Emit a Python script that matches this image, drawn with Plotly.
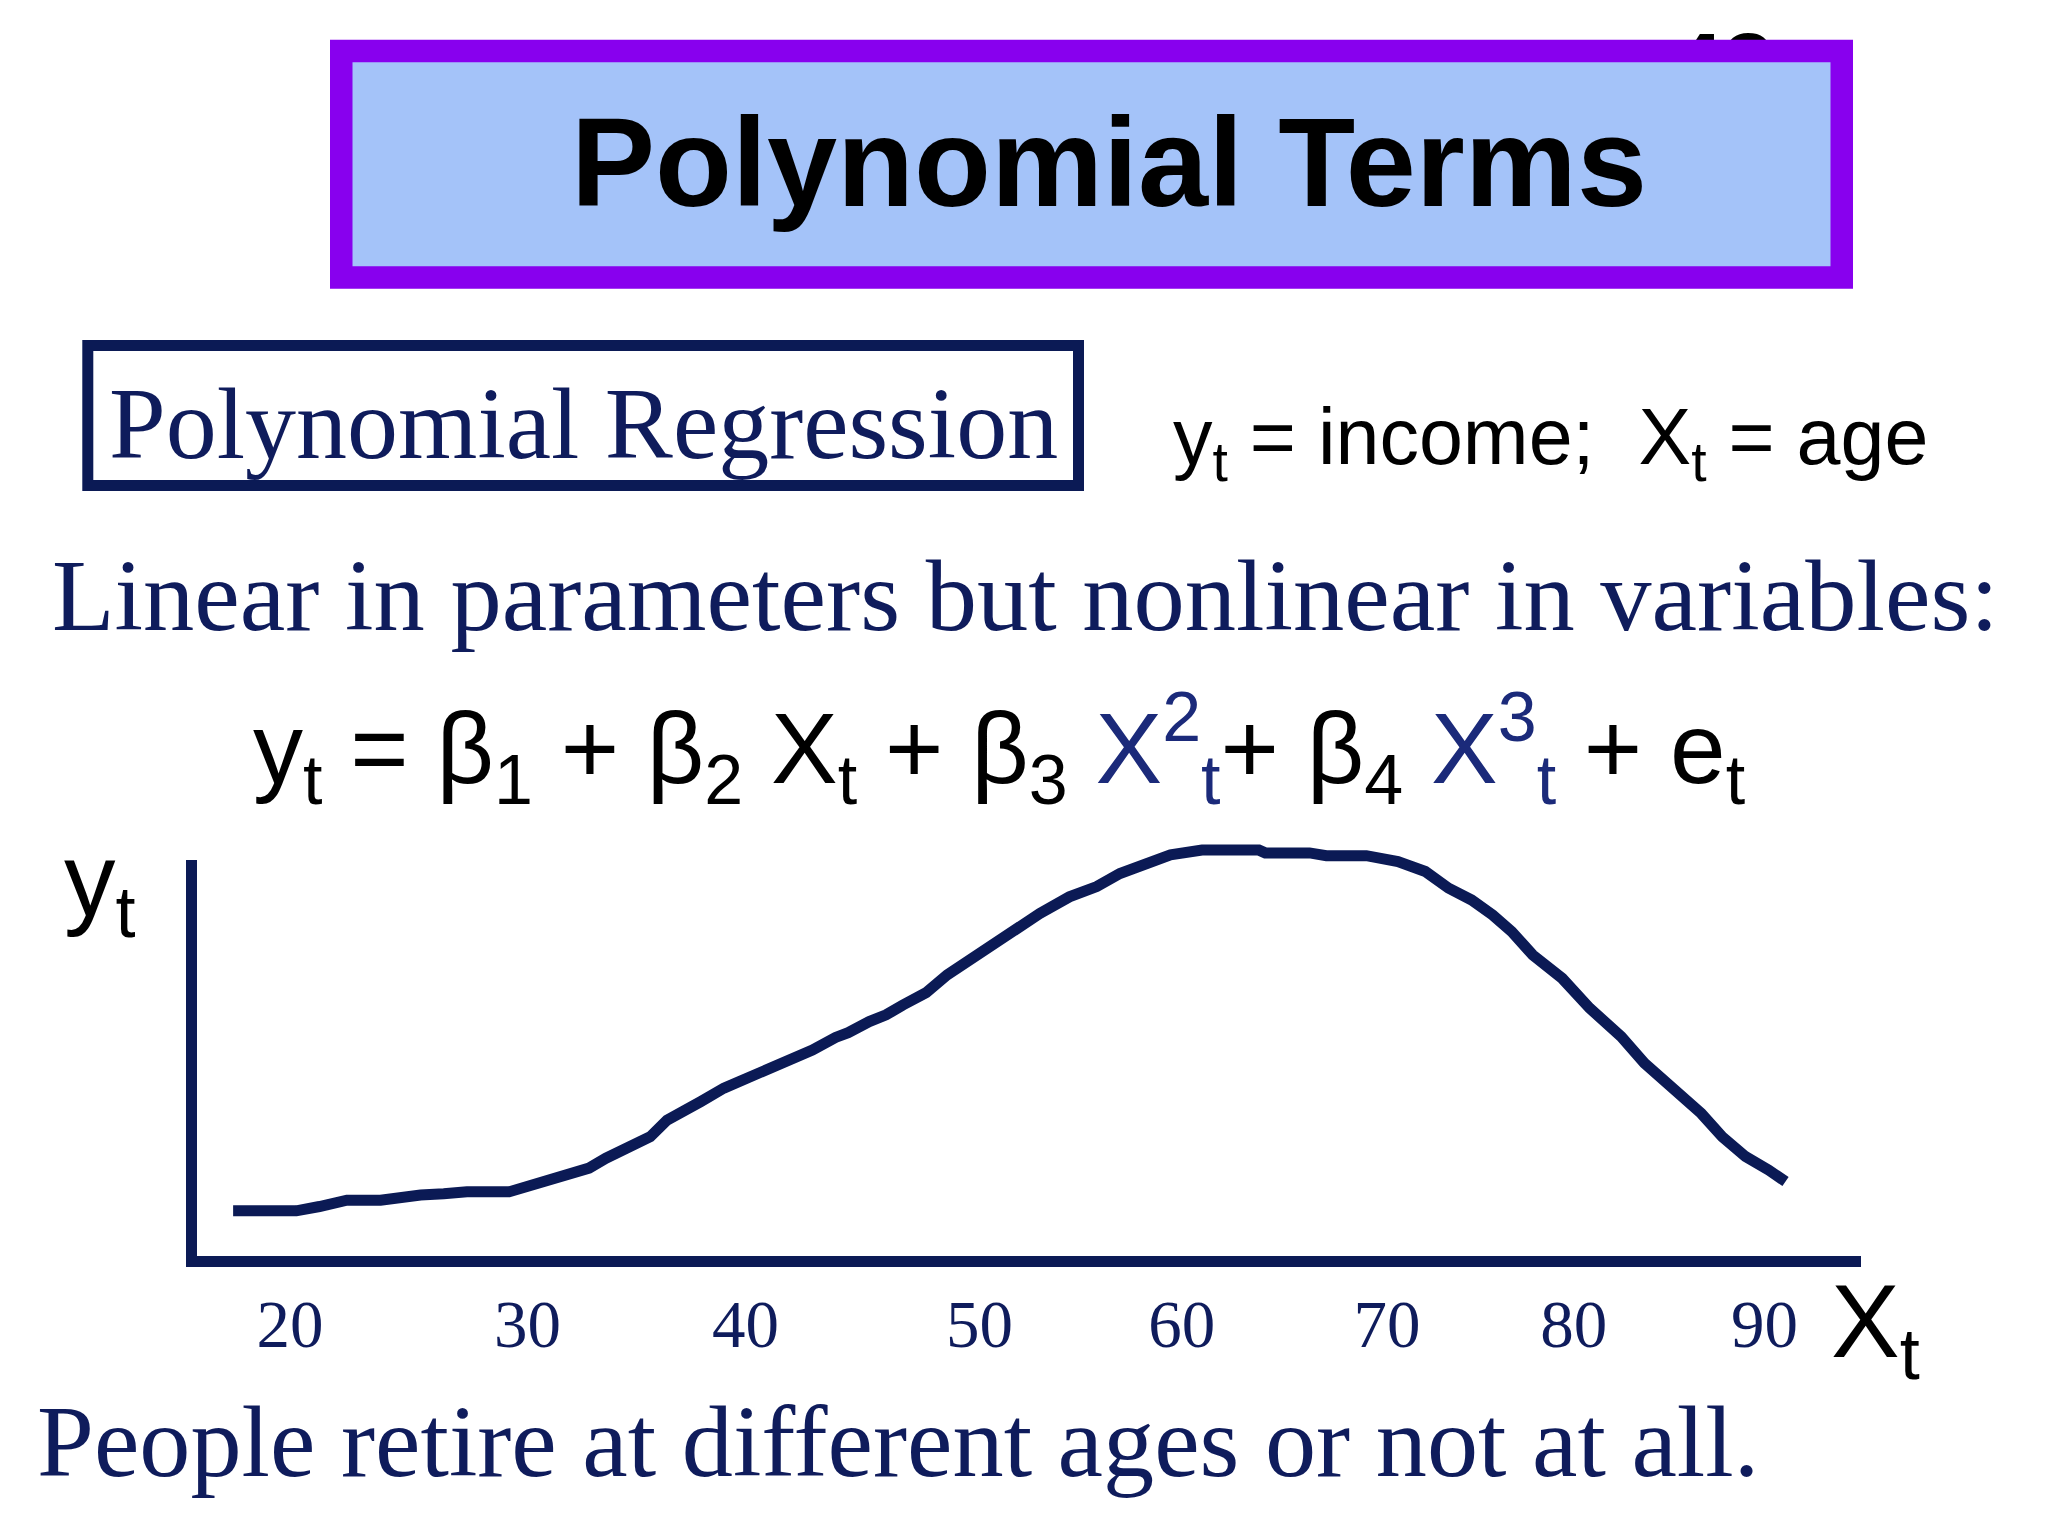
import plotly.graph_objects as go

# ---- data ----
ages = [17.3, 20.3, 21.4, 22.2, 22.7, 24.3, 25.0, 26.2, 27.3, 28.4, 30.4, 31.4, 32.2, 33.3,
        34.2, 35.0, 36.0, 37.1, 37.9, 38.7, 39.5, 40.6, 41.8, 43.2, 44.8, 45.9, 46.5, 47.5,
        48.3, 49.1, 50.2, 51.2, 52.4, 53.8, 54.8, 55.6, 57.0, 58.3, 59.4, 60.5, 61.8, 63.3,
        66.0, 66.3, 68.4, 69.2, 71.1, 72.6, 73.9, 75.0, 76.1, 77.1, 78.0, 79.0, 80.4, 81.7,
        83.2, 84.3, 85.3, 87.0, 88.0, 89.1, 90.2, 91.0]
income = [11.4, 11.4, 12.5, 13.3, 14.1, 14.1, 14.8, 15.4, 15.7, 16.2, 16.2, 17.9, 18.8, 21.3,
          22.2, 24.7, 27.2, 30.1, 34.3, 36.4, 39.0, 42.4, 45.1, 48.7, 52.0, 55.2, 56.4, 59.2,
          60.9, 63.4, 66.5, 71.0, 75.2, 80.2, 84.0, 86.5, 90.7, 93.3, 96.6, 98.7, 101.3, 102.5,
          102.5, 101.8, 101.8, 101.1, 101.1, 99.6, 97.1, 92.9, 89.9, 86.1, 81.9, 76.0, 70.1, 62.6,
          55.4, 48.7, 44.0, 36.0, 30.1, 25.1, 21.7, 18.8]
# the slide's hand-placed age labels and where they sit on the age scale
tick_ages = [20, 31.28, 41.63, 52.73, 62.34, 72.08, 80.94, 90]
tick_labels = ["20", "30", "40", "50", "60", "70", "80", "90"]
page_number = "43"

W, H = 2048, 1536
NAVY = "#0B1A55"
TXT_NAVY = "#0F1C5C"
EQ_BLUE = "#1B2A7A"
SANS = "Liberation Sans, Arial, sans-serif"
SERIF = "Liberation Serif, Times New Roman, serif"


def px(x):
    return x / W


def py(y):
    return 1 - y / H


fig = go.Figure()
fig.add_trace(go.Scatter(x=ages, y=income, mode="lines",
                         line=dict(color=NAVY, width=11), hoverinfo="skip",
                         showlegend=False))
# page number, mostly hidden behind the title box (as on the slide)
fig.add_trace(go.Scatter(x=[1723], y=[75], mode="text", text=[f"<b>{page_number}</b>"],
                         textposition="middle center",
                         textfont=dict(family=SANS, size=92, color="black"),
                         xaxis="x2", yaxis="y2", hoverinfo="skip", showlegend=False))

shapes = [
    # title box
    dict(type="rect", xref="paper", yref="paper",
         x0=px(341.25), x1=px(1841.75), y0=py(277.5), y1=py(51),
         line=dict(color="#8800EE", width=22.5), fillcolor="#A4C3F9", layer="above"),
    # Polynomial Regression box
    dict(type="rect", xref="paper", yref="paper",
         x0=px(87.8), x1=px(1078.5), y0=py(485.5), y1=py(345.5),
         line=dict(color=NAVY, width=11), fillcolor="rgba(0,0,0,0)"),
    # vertical axis line
    dict(type="line", xref="paper", yref="paper",
         x0=px(191.5), x1=px(191.5), y0=py(1267), y1=py(860),
         line=dict(color=NAVY, width=11)),
]

eq = ("y<sub>t</sub> = β<sub>1</sub> + β<sub>2</sub> X<sub>t</sub> + β<sub>3</sub> "
      f"<span style='color:{EQ_BLUE}'>X<sup>2</sup><sub>t</sub></span>+ β<sub>4</sub> "
      f"<span style='color:{EQ_BLUE}'>X<sup>3</sup><sub>t</sub></span> + e<sub>t</sub>")

annotations = [
    dict(text="<b>Polynomial Terms</b>", x=px(1109), y=py(163), xanchor="center", yanchor="middle",
         font=dict(family=SANS, size=126, color="black")),
    dict(text="Polynomial Regression", x=px(583), y=py(423), xanchor="center", yanchor="middle",
         font=dict(family=SERIF, size=102, color=TXT_NAVY)),
    dict(text="y<sub>t</sub> = income;\u00a0 X<sub>t</sub> = age", x=px(1550), y=py(443),
         xanchor="center", yanchor="middle", font=dict(family=SANS, size=79, color="black")),
    dict(text="Linear in parameters but nonlinear in variables:", x=px(1025.5), y=py(596),
         xanchor="center", yanchor="middle", font=dict(family=SERIF, size=102.5, color=TXT_NAVY)),
    dict(text=eq, x=px(999), y=py(748), xanchor="center", yanchor="middle",
         font=dict(family=SANS, size=100, color="black")),
    dict(text="y<sub>t</sub>", x=px(62), y=py(887), xanchor="left", yanchor="middle",
         font=dict(family=SANS, size=103, color="black")),
    dict(text="X<sub>t</sub>", x=px(1829), y=py(1329), xanchor="left", yanchor="middle",
         font=dict(family=SANS, size=103, color="black")),
    dict(text="People retire at different ages or not at all.", x=px(898), y=py(1441),
         xanchor="center", yanchor="middle", font=dict(family=SERIF, size=102.3, color=TXT_NAVY)),
]
for a in annotations:
    a.update(xref="paper", yref="paper", showarrow=False)

fig.update_layout(
    width=W, height=H, autosize=False,
    margin=dict(l=0, r=0, t=0, b=0, pad=0),
    paper_bgcolor="white", plot_bgcolor="rgba(0,0,0,0)",
    showlegend=False, hovermode=False,
    shapes=shapes, annotations=annotations,
    xaxis=dict(domain=[197 / W, 1861 / W], range=[15.585, 94.583], showgrid=False,
               zeroline=False, showline=True, linewidth=11, linecolor=NAVY,
               ticks="", tickmode="array", tickvals=tick_ages, ticktext=tick_labels,
               tickfont=dict(family=SERIF, size=67, color=TXT_NAVY), fixedrange=True),
    yaxis=dict(domain=[1 - 1256 / H, 1 - 830 / H], range=[0, 107.58], visible=False,
               showgrid=False, zeroline=False, fixedrange=True),
    xaxis2=dict(domain=[0, 1], range=[0, W], visible=False, anchor="y2", fixedrange=True),
    yaxis2=dict(domain=[0, 1], range=[H, 0], visible=False, anchor="x2", fixedrange=True),
)

fig.write_html("out.html", config={"displayModeBar": False},
               post_script="document.body.style.margin='0px';document.body.style.overflow='hidden';")
